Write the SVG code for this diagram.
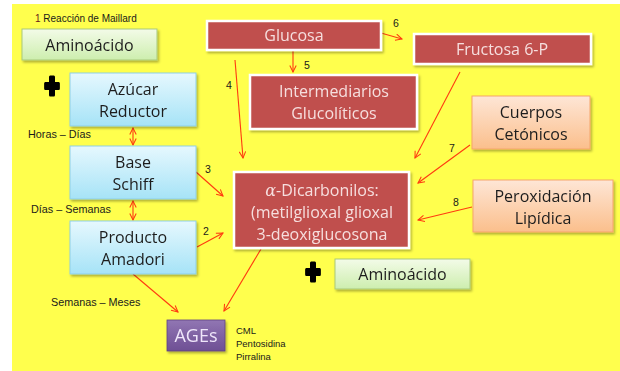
<svg xmlns="http://www.w3.org/2000/svg" width="620" height="371" viewBox="0 0 620 371">
<style>
.bt{font-family:"Open Sans","Noto Sans",sans-serif;font-size:16px;text-anchor:middle}
.dk{fill:#1e1e1e}
.lt{fill:#f6dede}
.sm{font-family:"Liberation Sans",Arial,sans-serif;font-size:10.8px;fill:#1a1a1a}
.num{font-family:"Liberation Sans",Arial,sans-serif;font-size:10.5px;fill:#1a1a1a;text-anchor:middle}
.red{fill:#c0504d;stroke:#ffffff;stroke-width:2.5}
.blue{fill:url(#gBlue);stroke:#8fcfe6;stroke-width:1}
.green{fill:url(#gGreen);stroke:#a9c97a;stroke-width:1}
.orange{fill:url(#gOrange);stroke:#f5a56a;stroke-width:1}
.conn{stroke:#ff3a10;stroke-width:1.1;fill:none;marker-end:url(#ah)}
.dbl{stroke:#ff3a10;stroke-width:1.1;fill:none;marker-end:url(#ah);marker-start:url(#ahs)}
</style>
<defs>
<linearGradient id="gBlue" x1="0" y1="0" x2="0" y2="1"><stop offset="0" stop-color="#e6f8fe"/><stop offset="1" stop-color="#a6e3f7"/></linearGradient>
<linearGradient id="gGreen" x1="0" y1="0" x2="0" y2="1"><stop offset="0" stop-color="#f3fbe8"/><stop offset="1" stop-color="#cdeeae"/></linearGradient>
<linearGradient id="gOrange" x1="0" y1="0" x2="0" y2="1"><stop offset="0" stop-color="#fee6d6"/><stop offset="1" stop-color="#fbbf8c"/></linearGradient>
<linearGradient id="gPurple" x1="0" y1="0" x2="0" y2="1"><stop offset="0" stop-color="#9176b3"/><stop offset="1" stop-color="#6e4f94"/></linearGradient>
<filter id="sh" x="-10%" y="-10%" width="130%" height="140%"><feDropShadow dx="1.5" dy="2" stdDeviation="1.2" flood-color="#000" flood-opacity="0.3"/></filter>
<marker id="ah" viewBox="0 0 10 10" refX="9" refY="5" markerWidth="8" markerHeight="8" orient="auto" markerUnits="userSpaceOnUse"><path d="M1,1 L9,5 L1,9" fill="none" stroke="#ff3a10" stroke-width="1.3"/></marker>
<marker id="ahs" viewBox="0 0 10 10" refX="1" refY="5" markerWidth="8" markerHeight="8" orient="auto" markerUnits="userSpaceOnUse"><path d="M9,1 L1,5 L9,9" fill="none" stroke="#ff3a10" stroke-width="1.3"/></marker>
<path id="plus" d="M-2.5,-10.5 h5 a1.5,1.5 0 0 1 1.5,1.5 v5 h5 a1.5,1.5 0 0 1 1.5,1.5 v5 a1.5,1.5 0 0 1 -1.5,1.5 h-5 v5 a1.5,1.5 0 0 1 -1.5,1.5 h-5 a1.5,1.5 0 0 1 -1.5,-1.5 v-5 h-5 a1.5,1.5 0 0 1 -1.5,-1.5 v-5 a1.5,1.5 0 0 1 1.5,-1.5 h5 v-5 a1.5,1.5 0 0 1 1.5,-1.5 z" fill="#000"/>
</defs>
<rect x="12" y="4" width="608" height="367" fill="#ffff4d"/>
<text class="sm" x="35" y="22" style="font-size:10px"><tspan fill="#6b1a1a">1</tspan> Reacción de Maillard</text>
<text class="sm" x="28" y="138">Horas – Días</text>
<text class="sm" x="31" y="213">Días – Semanas</text>
<text class="sm" x="51" y="306">Semanas – Meses</text>
<g id="connectors">
<line class="dbl" x1="133" y1="128" x2="133" y2="145"/>
<line class="dbl" x1="133" y1="201" x2="133" y2="220"/>
<line class="conn" x1="196" y1="172" x2="223" y2="196"/>
<line class="conn" x1="197" y1="247" x2="223" y2="233"/>
<line class="conn" x1="133" y1="274" x2="178" y2="312"/>
<line class="conn" x1="261" y1="249" x2="224" y2="311"/>
<line class="conn" x1="381" y1="33" x2="402" y2="39"/>
<line class="conn" x1="293" y1="51" x2="293" y2="72"/>
<line class="conn" x1="235" y1="60" x2="243" y2="158"/>
<line class="conn" x1="460" y1="72" x2="415" y2="158"/>
<line class="conn" x1="470" y1="145" x2="418" y2="183"/>
<line class="conn" x1="472" y1="207" x2="418" y2="220"/>
<text class="num" x="208" y="173">3</text>
<text class="num" x="206" y="235">2</text>
<text class="num" x="229" y="89">4</text>
<text class="num" x="307" y="69">5</text>
<text class="num" x="396" y="27">6</text>
<text class="num" x="452" y="152">7</text>
<text class="num" x="456" y="206">8</text>
</g>
<g id="aminoacido1" filter="url(#sh)"><rect class="green" x="22" y="29" width="135" height="31"/><text class="bt dk" x="89.5" y="51">Aminoácido</text></g>
<g id="plus1"><use href="#plus" transform="translate(52,86) scale(0.75,1)"/></g>
<g id="azucar" filter="url(#sh)"><rect class="blue" x="70" y="73" width="126" height="53"/><text class="bt dk" x="133" y="95">Azúcar</text><text class="bt dk" x="133" y="116.5">Reductor</text></g>
<g id="base" filter="url(#sh)"><rect class="blue" x="70" y="146" width="126" height="53"/><text class="bt dk" x="133" y="168">Base</text><text class="bt dk" x="133" y="189.5">Schiff</text></g>
<g id="producto" filter="url(#sh)"><rect class="blue" x="70" y="221" width="126" height="53"/><text class="bt dk" x="133" y="243">Producto</text><text class="bt dk" x="133" y="264.5">Amadori</text></g>
<g id="ages" filter="url(#sh)"><rect x="167" y="320" width="58" height="31" fill="url(#gPurple)" stroke="#5f4383" stroke-width="0.8"/><text class="bt" x="196" y="342" style="font-size:18px;fill:#efe6fa">AGEs</text></g>
<g id="agesList"><text class="sm" x="236" y="334" style="font-size:9.5px">CML</text><text class="sm" x="236" y="347" style="font-size:9.5px">Pentosidina</text><text class="sm" x="236" y="360" style="font-size:9.5px">Pirralina</text></g>
<g id="glucosa" filter="url(#sh)"><rect class="red" x="207" y="21" width="174" height="29"/><text class="bt lt" x="294" y="41">Glucosa</text></g>
<g id="fructosa" filter="url(#sh)"><rect class="red" x="414" y="34" width="177" height="30"/><text class="bt lt" x="502" y="55">Fructosa 6-P</text></g>
<g id="intermediarios" filter="url(#sh)"><rect class="red" x="250" y="75" width="167" height="54"/><text class="bt lt" x="334" y="97">Intermediarios</text><text class="bt lt" x="334" y="118.5">Glucolíticos</text></g>
<g id="cuerpos" filter="url(#sh)"><rect class="orange" x="472" y="96" width="118" height="53"/><text class="bt dk" x="531" y="118">Cuerpos</text><text class="bt dk" x="531" y="139.5">Cetónicos</text></g>
<g id="peroxidacion" filter="url(#sh)"><rect class="orange" x="473" y="180" width="140" height="52"/><text class="bt dk" x="543" y="202">Peroxidación</text><text class="bt dk" x="543" y="223.5">Lipídica</text></g>
<g id="dicarbonilos" filter="url(#sh)"><rect class="red" x="234" y="172" width="175" height="76"/><text class="bt lt" x="322" y="196"><tspan font-style="italic" font-family="'DejaVu Serif',serif">α</tspan>-Dicarbonilos:</text><text class="bt lt" x="322" y="218">(metilglioxal glioxal</text><text class="bt lt" x="322" y="240">3-deoxiglucosona</text></g>
<g id="plus2"><use href="#plus" transform="translate(313,272) scale(0.75,1)"/></g>
<g id="aminoacido2" filter="url(#sh)"><rect class="green" x="335" y="259" width="135" height="30"/><text class="bt dk" x="402.5" y="280">Aminoácido</text></g>
</svg>
